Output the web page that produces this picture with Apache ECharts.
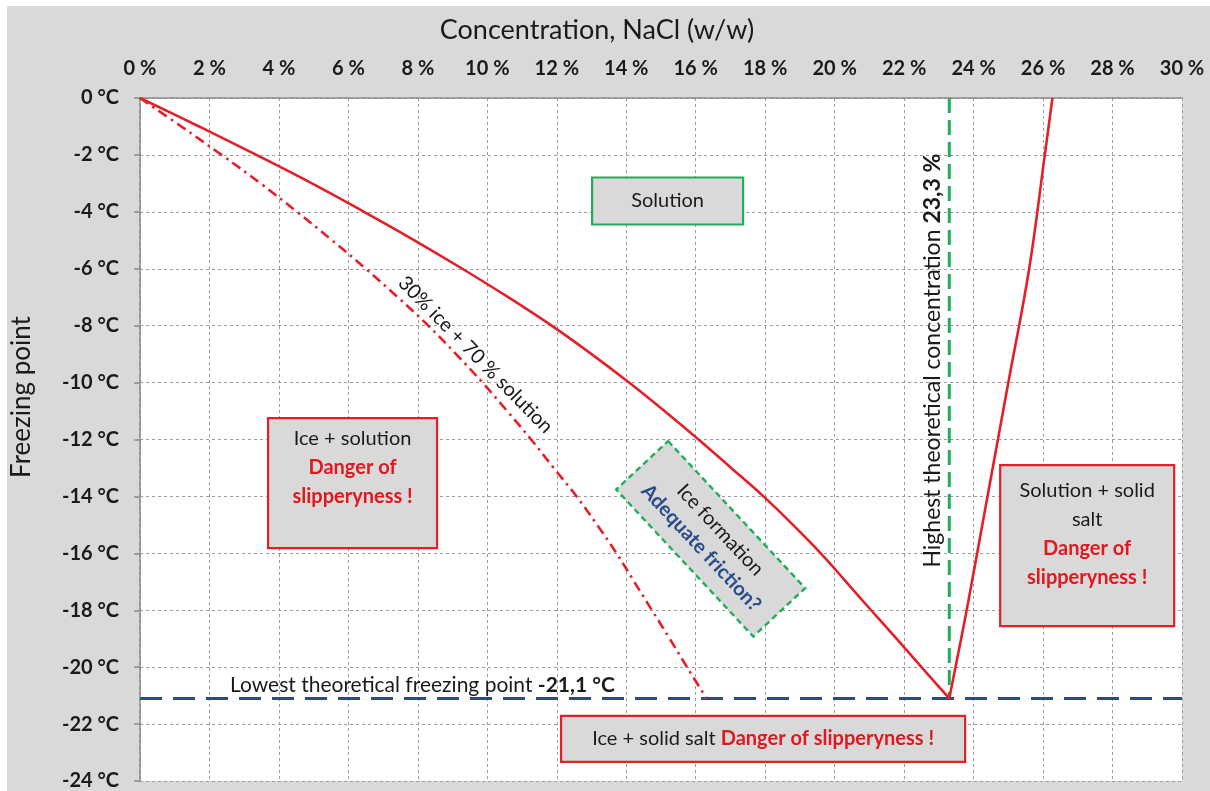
<!DOCTYPE html>
<html>
<head>
<meta charset="utf-8">
<script src="https://cdn.jsdelivr.net/npm/echarts@6/dist/echarts.min.js"></script>
<style>
  html, body { margin: 0; padding: 0; background: #ffffff; }
  #wrap { position: relative; width: 1210px; height: 791px; background: #ffffff; overflow: hidden; }
  #chart { position: absolute; left: 7px; top: 6px; width: 1203px; height: 785px; background: #d9d9d9; }
</style>
</head>
<body>
<div id="wrap"><div id="chart"></div></div>
<script>
// ---- data ----
// freezing point curve (ice / solution boundary)
const freezeConc = [0, 1.7, 3.35, 4.95, 6.45, 7.9, 9.28, 10.6, 11.85, 13.0, 14.08, 15.1, 16.08, 17.02, 17.95, 18.8, 19.6, 20.33, 21.05, 21.78, 22.5, 23.3];
const freezeTemp = [0, -1, -2, -3, -4, -5, -6, -7, -8, -9, -10, -11, -12, -13, -14, -15, -16, -17, -18, -19, -20, -21.1];
// 30 % ice + 70 % solution curve (dash-dot)
const iceMixConc = [0, 1.19, 2.35, 3.47, 4.52, 5.53, 6.5, 7.42, 8.3, 9.1, 9.86, 10.57, 11.26, 11.91, 12.57, 13.16, 13.72, 14.23, 14.74, 15.25, 15.75, 16.31];
const iceMixTemp = [0, -1, -2, -3, -4, -5, -6, -7, -8, -9, -10, -11, -12, -13, -14, -15, -16, -17, -18, -19, -20, -21.1];
// solubility line (solution / solid salt boundary)
const saltConc = [23.3, 23.8, 24.4, 25.0, 25.6, 26.05, 26.27];
const saltTemp = [-21.1, -18, -14, -10, -6, -2, 0];
// reference lines
const eutecticConc = 23.3;
const eutecticTemp = -21.1;
// axis ticks
const xTicks = [0, 2, 4, 6, 8, 10, 12, 14, 16, 18, 20, 22, 24, 26, 28, 30];
const yTicks = [0, -2, -4, -6, -8, -10, -12, -14, -16, -18, -20, -22, -24];

const zip = (a, b) => a.map((v, i) => [v, b[i]]);

const FONT = 'Lato, "Open Sans", sans-serif';
const RED = '#e3202a';
const TXTRED = '#e2181f';
const GREEN = '#1fae5c';
const BLUE = '#2d4c7c';
const TXTBLUE = '#2b4c88';
const INK = '#1a1a1a';
const GRIDC = '#9c9c9c';

const chart = echarts.init(document.getElementById('chart'), null, { renderer: 'canvas' });

const option = {
  backgroundColor: 'transparent',
  animation: false,
  textStyle: { fontFamily: FONT },
  grid: {
    left: 133, top: 92, width: 1042, height: 686.4,
    show: true, backgroundColor: '#ffffff', borderWidth: 0
  },
  xAxis: {
    type: 'value', position: 'top',
    min: xTicks[0], max: xTicks[xTicks.length - 1], interval: xTicks[1] - xTicks[0],
    axisLine: { show: true, onZero: false, lineStyle: { color: '#8a8a8a', width: 1.5 } },
    axisTick: { show: false },
    axisLabel: { formatter: '{value} %', fontSize: 20, fontWeight: 'bold', color: INK, margin: 19, fontFamily: FONT },
    splitLine: { show: true, lineStyle: { color: GRIDC, width: 1, type: [3, 3] } }
  },
  yAxis: {
    type: 'value',
    min: yTicks[yTicks.length - 1], max: yTicks[0], interval: yTicks[0] - yTicks[1],
    axisLine: { show: true, onZero: false, lineStyle: { color: '#8a8a8a', width: 1.5 } },
    axisTick: { show: true, length: 6, lineStyle: { color: '#8a8a8a', width: 1.5 } },
    axisLabel: { formatter: '{value} °C', fontSize: 20, fontWeight: 'bold', color: INK, margin: 21, fontFamily: FONT },
    splitLine: { show: true, lineStyle: { color: GRIDC, width: 1, type: [3, 3] } }
  },
  series: [
    {
      name: 'Freezing point', type: 'line', data: zip(freezeConc, freezeTemp),
      showSymbol: false, smooth: 0.4, z: 5,
      lineStyle: { color: RED, width: 2.6 }
    },
    {
      name: '30% ice + 70 % solution', type: 'line', data: zip(iceMixConc, iceMixTemp),
      showSymbol: false, smooth: 0.4, z: 5,
      lineStyle: { color: RED, width: 2.6, type: [10, 5, 2.5, 5] }
    },
    {
      name: 'Solubility', type: 'line', data: zip(saltConc, saltTemp),
      showSymbol: false, smooth: 0.4, z: 5,
      lineStyle: { color: RED, width: 2.6 }
    },
    {
      name: 'Highest concentration', type: 'line',
      data: [[eutecticConc, yTicks[0]], [eutecticConc, eutecticTemp]],
      showSymbol: false, z: 4,
      lineStyle: { color: GREEN, width: 3, type: [15, 7] }
    },
    {
      name: 'Lowest freezing point', type: 'line',
      data: [[xTicks[0], eutecticTemp], [xTicks[xTicks.length - 1], eutecticTemp]],
      showSymbol: false, z: 4,
      lineStyle: { color: BLUE, width: 3, type: [22, 11] }
    }
  ]
};
chart.setOption(option);

const P = (x, y) => chart.convertToPixel({ gridIndex: 0 }, [x, y]);
const deg = d => d * Math.PI / 180;

function box(cx, cy, w, h, opts) {
  const p = P(cx, cy);
  const children = [{
    type: 'rect',
    shape: { x: -w / 2, y: -h / 2, width: w, height: h },
    style: { fill: '#d9d9d9', stroke: opts.stroke, lineWidth: opts.lineWidth || 2.2, lineDash: opts.dash || null }
  }, {
    type: 'text',
    x: 0, y: opts.textDy || 0,
    style: {
      text: opts.text, rich: opts.rich, align: 'center',
      verticalAlign: opts.vAlign || 'middle', font: '20px ' + FONT, fill: INK
    }
  }];
  return { type: 'group', x: p[0], y: p[1], rotation: opts.rotation || 0, z: 50, children };
}

const rich = {
  n: { fontSize: 20, fontFamily: FONT, fill: INK, lineHeight: 29 },
  r: { fontSize: 20, fontFamily: FONT, fill: TXTRED, fontWeight: 'bold', lineHeight: 29 },
  k: { fontSize: 21, fontFamily: FONT, fill: INK, fontWeight: 'bold', lineHeight: 29 },
  n2: { fontSize: 21, fontFamily: FONT, fill: INK, lineHeight: 29 },
  h: { fontSize: 23, fontFamily: FONT, fill: INK, lineHeight: 29 },
  hk: { fontSize: 23, fontFamily: FONT, fill: INK, fontWeight: 'bold', lineHeight: 29 },
  bl: { fontSize: 20, fontFamily: FONT, fill: TXTBLUE, fontWeight: 'bold', lineHeight: 26 },
  m: { fontSize: 20, fontFamily: FONT, fill: INK, lineHeight: 26 }
};

const pLow = P(2.59, -20.63);
const pHigh = P(22.83, -9.23);
const pMix = P(9.66, -9.02);

const graphics = [
  // chart title
  { type: 'text', x: 590, y: 24, z: 50,
    style: { text: 'Concentration, NaCl (w/w)', font: '27px ' + FONT, fill: INK, align: 'center', verticalAlign: 'middle' } },
  // y axis name
  { type: 'text', x: 15, y: 391, rotation: deg(90), z: 50,
    style: { text: 'Freezing point', font: '26px ' + FONT, fill: INK, align: 'center', verticalAlign: 'middle' } },
  // region boxes
  box(15.19, -3.62, 151, 47, { stroke: GREEN, text: '{n|Solution}', rich }),
  box(6.12, -13.53, 169, 130, { stroke: RED, text: '{n|Ice + solution}\n{r|Danger of}\n{r|slipperyness !}', rich, textDy: -15 }),
  box(27.27, -15.73, 174, 161, { stroke: RED, text: '{n|Solution + solid}\n{n|salt}\n{r|Danger of}\n{r|slipperyness !}', rich, vAlign: 'top', textDy: -161 / 2 + 11 }),
  box(17.94, -22.52, 404, 46, { stroke: RED, text: '{n|Ice + solid salt }{r|Danger of slipperyness !}', rich }),
  box(16.43, -15.49, 201, 71, { stroke: GREEN, dash: [6, 4], lineWidth: 2.4, rotation: deg(-47),
    text: '{m|Ice formation}\n{bl|Adequate friction?}', rich }),
  // line labels
  { type: 'text', x: pMix[0], y: pMix[1], rotation: deg(-45.5), z: 50,
    style: { text: '30% ice + 70 % solution', font: '20px ' + FONT, fill: INK, align: 'center', verticalAlign: 'middle' } },
  { type: 'text', x: pLow[0], y: pLow[1], z: 50,
    style: { text: '{n2|Lowest theoretical freezing point }{k|-21,1 °C}', rich, align: 'left', verticalAlign: 'middle' } },
  { type: 'text', x: pHigh[0], y: pHigh[1], rotation: deg(90), z: 50,
    style: { text: '{h|Highest theoretical concentration }{hk|23,3 %}', rich, align: 'center', verticalAlign: 'middle' } }
];
chart.setOption({ graphic: graphics });
</script>
</body>
</html>
